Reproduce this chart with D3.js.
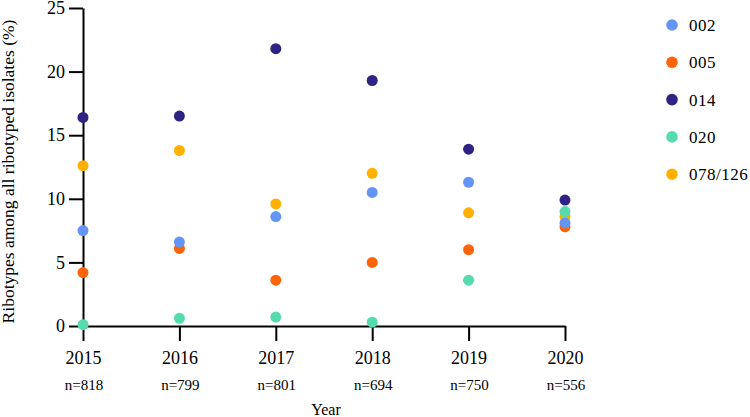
<!DOCTYPE html>
<html><head><meta charset="utf-8">
<script src="https://cdn.jsdelivr.net/npm/d3@7"></script>
<style>body{margin:0;background:#fff}svg{display:block}</style>
</head><body><svg id="c" width="750" height="417"></svg>
<script>
const years = ["2015","2016","2017","2018","2019","2020"];
const nLabels = ["n=818","n=799","n=801","n=694","n=750","n=556"];
const seriesNames = ["002","005","014","020","078/126"];
const colors = ["#6495f5","#ff6308","#2e2383","#55dbad","#ffb000"];
const v002 = [7.5, 6.6, 8.6, 10.5, 11.3, 8.1];
const v005 = [4.2, 6.1, 3.6, 5.0, 6.0, 7.8];
const v014 = [16.4, 16.5, 21.8, 19.3, 13.9, 9.9];
const v020 = [0.1, 0.6, 0.7, 0.3, 3.6, 9.0];
const v078 = [12.6, 13.8, 9.6, 12.0, 8.9, 8.6];
const yTicks = [0,5,10,15,20,25];
const seriesValues = [v002, v005, v014, v020, v078];

const FONT = "Liberation Serif";
const svg = d3.select("#c");
const x = d3.scalePoint().domain(years).range([83,565]);
const y = d3.scaleLinear().domain([0,25]).range([326,8]);

// axes
const yAxis = svg.append("g").attr("transform","translate(83,0)")
  .call(d3.axisLeft(y).tickValues(yTicks).tickSize(14).tickSizeOuter(0).tickPadding(4));
yAxis.attr("font-family",FONT);
yAxis.select(".domain").attr("stroke","#000").attr("stroke-width",2);
yAxis.selectAll(".tick line").attr("stroke","#000").attr("stroke-width",2);
yAxis.selectAll(".tick text").attr("font-size",18).attr("fill","#000");

const xAxis = svg.append("g").attr("transform","translate(0,326)")
  .call(d3.axisBottom(x).tickSize(15).tickSizeOuter(0).tickPadding(10));
xAxis.attr("font-family",FONT);
xAxis.select(".domain").attr("stroke","#000").attr("stroke-width",2);
xAxis.selectAll(".tick line").attr("stroke","#000").attr("stroke-width",2);
xAxis.selectAll(".tick text").attr("font-size",18).attr("fill","#000");

svg.append("g").attr("font-family",FONT).selectAll("text").data(years).join("text")
  .attr("x",d=>x(d)+1).attr("y",390).attr("text-anchor","middle").attr("font-size",15)
  .text((d,i)=>nLabels[i]);

svg.append("text").attr("font-family",FONT).attr("x",326).attr("y",415).attr("text-anchor","middle").attr("font-size",16).text("Year");
svg.append("text").attr("font-family",FONT).attr("transform","translate(13.5,171.5) rotate(-90)").attr("text-anchor","middle")
  .attr("font-size",17.5).text("Ribotypes among all ribotyped isolates (%)");

// points, drawn in reverse order
const order = [4,3,2,1,0];
order.forEach(si=>{
  svg.append("g").selectAll("circle").data(seriesValues[si]).join("circle")
    .attr("cx",(d,i)=>x(years[i])).attr("cy",d=>y(d)).attr("r",5.5).attr("fill",colors[si]);
});

// legend
const lg = svg.append("g").attr("font-family",FONT);
seriesNames.forEach((s,i)=>{
  const yy = 25 + i*37.3;
  lg.append("circle").attr("cx",672).attr("cy",yy).attr("r",5.8).attr("fill",colors[i]);
  lg.append("text").attr("x",689).attr("y",yy+6).attr("font-size",17).attr("letter-spacing",0.5).text(s);
});
</script></body></html>
